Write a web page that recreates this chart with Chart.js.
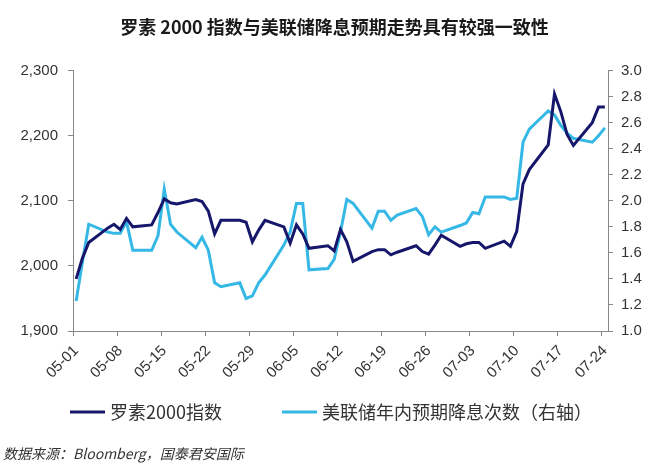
<!DOCTYPE html>
<html>
<head>
<meta charset="utf-8">
<script src="https://cdn.jsdelivr.net/npm/chart.js@4.4.1/dist/chart.umd.min.js"></script>
<style>
  html, body { margin: 0; padding: 0; background: #fff; }
</style>
</head>
<body>
<canvas id="chart" width="669" height="469"></canvas>
<script>
// trading days (2024)
const tradeDays = [
    '05-01','05-02','05-03','05-06','05-07','05-08','05-09','05-10','05-13','05-14',
    '05-15','05-16','05-17','05-20','05-21','05-22','05-23','05-24','05-27','05-28',
    '05-29','05-30','05-31','06-03','06-04','06-05','06-06','06-07','06-10','06-11',
    '06-12','06-13','06-14','06-17','06-18','06-19','06-20','06-21','06-24','06-25',
    '06-26','06-27','06-28','07-01','07-02','07-03','07-04','07-05','07-08','07-09',
    '07-10','07-11','07-12','07-15','07-16','07-17','07-18','07-19','07-22','07-23',
    '07-24'
];
const russell2000 = [
    1980, 2012, 2036, 2058, 2064, 2056, 2073, 2060, 2063, 2082,
    2103, 2097, 2095, 2102, 2099, 2084, 2049, 2070, 2070, 2067,
    2037, 2055, 2070, 2060, 2035, 2063, 2049, 2027, 2031, 2023,
    2056, 2037, 2007, 2022, 2025, 2025, 2017, 2021, 2031, 2022,
    2018, 2032, 2047, 2030, 2034, 2036, 2036, 2027, 2038, 2030,
    2053, 2126, 2148, 2186, 2264, 2237, 2202, 2185, 2220, 2244,
    2244
];
const fedCuts = [
    1.23, 1.53, 1.82, 1.76, 1.75, 1.75, 1.84, 1.62, 1.62, 1.73,
    2.09, 1.82, 1.76, 1.64, 1.72, 1.62, 1.37, 1.34, 1.37, 1.25,
    1.27, 1.37, 1.43, 1.66, 1.76, 1.98, 1.98, 1.47, 1.48, 1.55,
    1.76, 2.01, 1.98, 1.79, 1.92, 1.92, 1.85, 1.89, 1.94, 1.88,
    1.74, 1.80, 1.76, 1.81, 1.83, 1.91, 1.90, 2.03, 2.03, 2.01,
    2.02, 2.45, 2.55, 2.69, 2.66, 2.58, 2.52, 2.48, 2.45, 2.50,
    2.56
];
const leftTicks = { min: 1900, max: 2300, step: 100 };
const rightTicks = { min: 1.0, max: 3.0, step: 0.2 };

const seriesNames = ['罗素2000指数', '美联储年内预期降息次数（右轴）'];
const colors = ['#16166b', '#35b8e6'];

// date axis: one slot per calendar day, weekends left empty
const calendar = [];
for (let d = new Date(2024, 4, 1); d <= new Date(2024, 6, 24); d.setDate(d.getDate() + 1)) {
    const mm = String(d.getMonth() + 1).padStart(2, '0');
    const dd = String(d.getDate()).padStart(2, '0');
    calendar.push(mm + '-' + dd);
}
function onCalendar(values) {
    return calendar.map(day => {
        const i = tradeDays.indexOf(day);
        return i >= 0 ? values[i] : null;
    });
}

const tickFont = { family: 'Liberation Sans, Arial, sans-serif', size: 15 };
const cjk = '"Noto Sans CJK SC", sans-serif';

// legend + source note drawn under the plot
const footer = {
    id: 'footer',
    afterDraw(chart) {
        const c = chart.ctx;
        c.save();
        const items = [{ x: 70, text: seriesNames[0] }, { x: 282, text: seriesNames[1] }];
        items.forEach((it, i) => {
            c.strokeStyle = colors[i];
            c.lineWidth = 3;
            c.beginPath();
            c.moveTo(it.x, 412);
            c.lineTo(it.x + 35, 412);
            c.stroke();
            c.fillStyle = '#333';
            c.font = '18px ' + cjk;
            c.textBaseline = 'middle';
            c.fillText(it.text, it.x + 40, 412);
        });
        c.font = 'italic 14px ' + cjk;
        c.fillStyle = '#333';
        c.fillText('数据来源：Bloomberg，国泰君安国际', 3, 454);
        c.restore();
    }
};

new Chart(document.getElementById('chart'), {
    type: 'line',
    data: {
        labels: calendar,
        datasets: [{
            label: seriesNames[0],
            data: onCalendar(russell2000),
            borderColor: colors[0],
            backgroundColor: colors[0],
            borderWidth: 3,
            pointRadius: 0,
            spanGaps: true,
            yAxisID: 'y'
        }, {
            label: seriesNames[1],
            data: onCalendar(fedCuts),
            borderColor: colors[1],
            backgroundColor: colors[1],
            borderWidth: 3,
            pointRadius: 0,
            spanGaps: true,
            yAxisID: 'y1'
        }]
    },
    options: {
        responsive: false,
        animation: false,
        layout: { padding: { left: 0, right: 0, top: 0, bottom: 80 } },
        plugins: {
            legend: { display: false },
            tooltip: { enabled: false },
            title: {
                display: true,
                text: '罗素 2000 指数与美联储降息预期走势具有较强一致性',
                color: '#1a1a1a',
                font: { family: cjk, size: 18, weight: 'bold' },
                padding: { top: 16, bottom: 33 }
            }
        },
        scales: {
            x: {
                offset: true,
                afterFit: s => { s.height = 58; },
                grid: {
                    offset: true,
                    drawOnChartArea: false,
                    tickLength: 5,
                    color: c => (c.index % 7 === 0 ? '#888' : 'rgba(0,0,0,0)')
                },
                border: { color: '#888' },
                ticks: {
                    autoSkip: false,
                    minRotation: 45,
                    maxRotation: 45,
                    padding: 6,
                    color: '#333',
                    font: tickFont,
                    callback: (v, i) => (i % 7 === 0 ? calendar[i] : '')
                }
            },
            y: {
                position: 'left',
                min: leftTicks.min,
                max: leftTicks.max,
                afterFit: s => { s.width = 73; },
                grid: { drawOnChartArea: false, tickLength: 5, color: '#888' },
                border: { color: '#888' },
                ticks: {
                    stepSize: leftTicks.step,
                    padding: 10,
                    color: '#333',
                    font: tickFont,
                    callback: v => v.toLocaleString('en-US')
                }
            },
            y1: {
                position: 'right',
                min: rightTicks.min,
                max: rightTicks.max,
                afterFit: s => { s.width = 61; },
                grid: { drawOnChartArea: false, tickLength: 5, color: '#888' },
                border: { color: '#888' },
                ticks: {
                    stepSize: rightTicks.step,
                    padding: 8,
                    color: '#333',
                    font: tickFont,
                    callback: v => v.toFixed(1)
                }
            }
        }
    },
    plugins: [footer]
});
</script>
</body>
</html>
